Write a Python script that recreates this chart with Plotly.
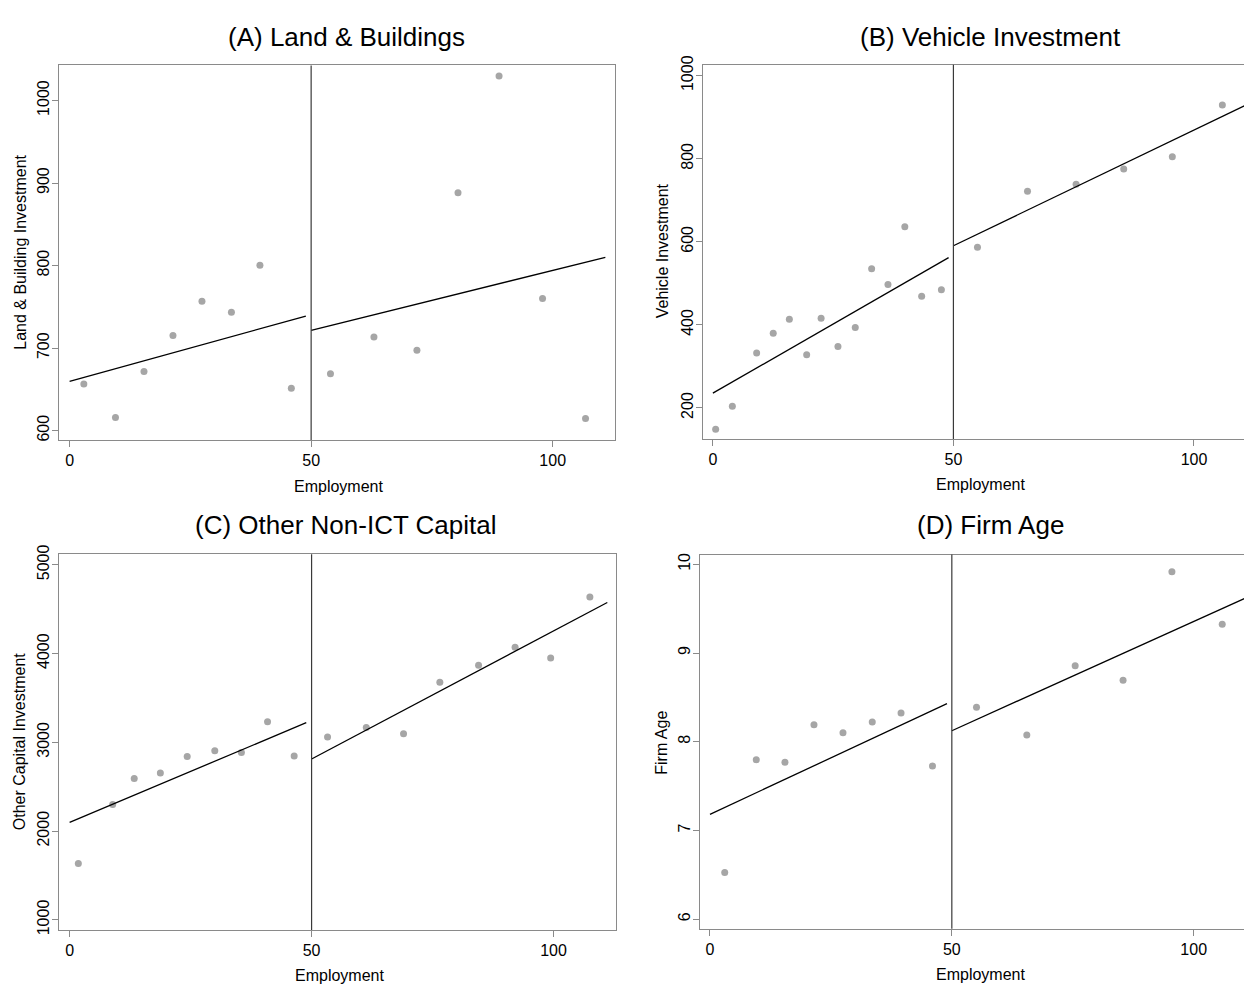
import plotly.graph_objects as go

W, H = 1244, 988
CUTOFF = 50

# ---------------- data ----------------
# Panel A: Land & Buildings
a_x_left = [2.95, 9.5, 15.4, 21.4, 27.4, 33.5, 39.4, 45.9]
a_y_left = [656.5, 616, 671.6, 715.3, 756.7, 743.5, 800.4, 651.3]
a_x_right = [54.0, 63.0, 71.9, 80.4, 88.9, 97.9, 106.8]
a_y_right = [668.8, 713.3, 697.4, 888.3, 1029.8, 760.2, 614.7]
a_fit_left_x = [0, 48.9]
a_fit_left_y = [659.6, 738.8]
a_fit_right_x = [50, 110.9]
a_fit_right_y = [721.3, 810.0]

# Panel B: Vehicle Investment
b_x_left = [0.58, 4.05, 9.1, 12.55, 15.9, 19.5, 22.5, 26.0, 29.6, 33.0, 36.4, 39.9, 43.4, 47.5]
b_y_left = [148.6, 204, 332, 380, 413.4, 328, 415.8, 347.8, 393.7, 535.2, 497.2, 636.4, 468.8, 484.6]
b_x_right = [55.0, 65.4, 75.5, 85.4, 95.5, 105.9]
b_y_right = [586.6, 721.7, 738.3, 775.5, 804.7, 929.6]
b_fit_left_x = [0, 49.0]
b_fit_left_y = [235.6, 562.0]
b_fit_right_x = [50, 111.0]
b_fit_right_y = [590.5, 930.5]

# Panel C: Other Non-ICT Capital
c_x_left = [1.8, 8.9, 13.35, 18.75, 24.3, 30.0, 35.5, 40.9, 46.4]
c_y_left = [1636, 2301, 2593, 2656, 2841, 2904, 2885, 3233, 2845]
c_x_right = [53.3, 61.3, 69.0, 76.5, 84.5, 92.05, 99.4, 107.5]
c_y_right = [3059, 3166, 3096, 3677, 3869, 4072, 3950, 4638]
c_fit_left_x = [0, 48.9]
c_fit_left_y = [2098, 3222]
c_fit_right_x = [50, 111.1]
c_fit_right_y = [2812, 4575]

# Panel D: Firm Age
d_x_left = [3.05, 9.57, 15.5, 21.5, 27.5, 33.55, 39.5, 46.0]
d_y_left = [6.524, 7.798, 7.768, 8.191, 8.102, 8.221, 8.325, 7.727]
d_x_right = [55.1, 65.5, 75.5, 85.4, 95.5, 105.9]
d_y_right = [8.388, 8.076, 8.856, 8.693, 9.918, 9.324]
d_fit_left_x = [0, 49.0]
d_fit_left_y = [7.181, 8.429]
d_fit_right_x = [50, 111.0]
d_fit_right_y = [8.124, 9.627]

x_ticks = [0, 50, 100]
a_y_ticks = [600, 700, 800, 900, 1000]
b_y_ticks = [200, 400, 600, 800, 1000]
c_y_ticks = [1000, 2000, 3000, 4000, 5000]
d_y_ticks = [6, 7, 8, 9, 10]

titles = ["(A) Land & Buildings", "(B) Vehicle Investment",
          "(C) Other Non-ICT Capital", "(D) Firm Age"]
y_titles = ["Land & Building Investment", "Vehicle Investment",
            "Other Capital Investment", "Firm Age"]
x_title = "Employment"

# ---------------- layout geometry (pixels) ----------------
panels = [
    dict(px=(59.3, 615), py=(56.3, 436.7), xr=(-2.13, 112.9), yr=(588.5, 1042.5),
         yt=a_y_ticks, mirror_right=True,
         data=(a_x_left, a_y_left, a_x_right, a_y_right,
               a_fit_left_x, a_fit_left_y, a_fit_right_x, a_fit_right_y),
         title_xy=(346.5, 27.2), ytitle_xy=(20.5, 246), xtitle_xy=(338, 483.8)),
    dict(px=(703, 1244), py=(55.7, 435.7), xr=(-2.05, 110.4), yr=(125, 1026),
         yt=b_y_ticks, mirror_right=False,
         data=(b_x_left, b_y_left, b_x_right, b_y_right,
               b_fit_left_x, b_fit_left_y, b_fit_right_x, b_fit_right_y),
         title_xy=(990, 27.5), ytitle_xy=(662, 245), xtitle_xy=(980, 482)),
    dict(px=(59.3, 616), py=(552.7, 934.3), xr=(-2.13, 112.9), yr=(885, 5118),
         yt=c_y_ticks, mirror_right=True,
         data=(c_x_left, c_y_left, c_x_right, c_y_right,
               c_fit_left_x, c_fit_left_y, c_fit_right_x, c_fit_right_y),
         title_xy=(346, 523), ytitle_xy=(19.5, 743), xtitle_xy=(339.5, 980)),
    dict(px=(700, 1244), py=(553, 933), xr=(-2.06, 110.4), yr=(5.89, 10.11),
         yt=d_y_ticks, mirror_right=False,
         data=(d_x_left, d_y_left, d_x_right, d_y_right,
               d_fit_left_x, d_fit_left_y, d_fit_right_x, d_fit_right_y),
         title_xy=(990, 523), ytitle_xy=(662, 744), xtitle_xy=(980, 979)),
]

FONT = "Liberation Sans, Arial, Helvetica, sans-serif"
FRAME = "#8a8a8a"
DOT = "#a6a6a6"

fig = go.Figure()
layout = dict(width=W, height=H, margin=dict(l=0, r=0, t=0, b=0),
              paper_bgcolor="white", plot_bgcolor="white", showlegend=False,
              font=dict(family=FONT, color="black", size=16))
annotations = []
shapes = []

for i, p in enumerate(panels):
    n = "" if i == 0 else str(i + 1)
    xa, ya = "x" + n, "y" + n
    xl, yl, xrt, yrt, fxl, fyl, fxr, fyr = p["data"]
    for xs, ys in ((xl, yl), (xrt, yrt)):
        fig.add_trace(go.Scatter(x=xs, y=ys, mode="markers", xaxis=xa, yaxis=ya,
                                 marker=dict(color=DOT, size=7, line=dict(width=0)),
                                 hoverinfo="skip"))
    for xs, ys in ((fxl, fyl), (fxr, fyr)):
        fig.add_trace(go.Scatter(x=xs, y=ys, mode="lines", xaxis=xa, yaxis=ya,
                                 line=dict(color="black", width=1.3),
                                 hoverinfo="skip"))
    layout["xaxis" + n] = dict(
        domain=[p["px"][0] / W, p["px"][1] / W], range=list(p["xr"]),
        anchor=ya, tickvals=x_ticks, ticks="outside", ticklen=6, tickcolor=FRAME,
        showline=True, linecolor=FRAME, linewidth=1.2, mirror=True,
        showgrid=False, zeroline=False, tickfont=dict(size=16))
    layout["yaxis" + n] = dict(
        domain=[1 - p["py"][1] / H, 1 - p["py"][0] / H], range=list(p["yr"]),
        anchor=xa, tickvals=p["yt"], ticks="outside", ticklen=6, tickcolor=FRAME,
        showline=True, linecolor=FRAME, linewidth=1.2,
        mirror=p["mirror_right"], tickangle=-90, ticklabelstandoff=-3,
        showgrid=False, zeroline=False, tickfont=dict(size=16))
    shapes.append(dict(type="line", xref=xa, yref=ya + " domain",
                       x0=CUTOFF, x1=CUTOFF, y0=0, y1=1,
                       line=dict(color="#3a3a3a", width=1.2)))
    tx, ty = p["title_xy"]
    annotations.append(dict(text=titles[i], x=tx / W, y=1 - ty / H, xref="paper",
                            yref="paper", showarrow=False, xanchor="center",
                            yanchor="middle", font=dict(size=26)))
    yx, yy = p["ytitle_xy"]
    annotations.append(dict(text=y_titles[i], x=yx / W, y=1 - yy / H, xref="paper",
                            yref="paper", showarrow=False, textangle=-90,
                            xanchor="center", yanchor="middle", font=dict(size=16)))
    ex, ey = p["xtitle_xy"]
    annotations.append(dict(text=x_title, x=ex / W, y=1 - ey / H, xref="paper",
                            yref="paper", showarrow=False, xanchor="center",
                            yanchor="middle", font=dict(size=16)))

layout["annotations"] = annotations
layout["shapes"] = shapes
fig.update_layout(**layout)
fig.write_html("out.html", config={"displayModeBar": False},
               post_script="document.body.style.margin='0px';"
                           "document.body.style.overflow='hidden';")
